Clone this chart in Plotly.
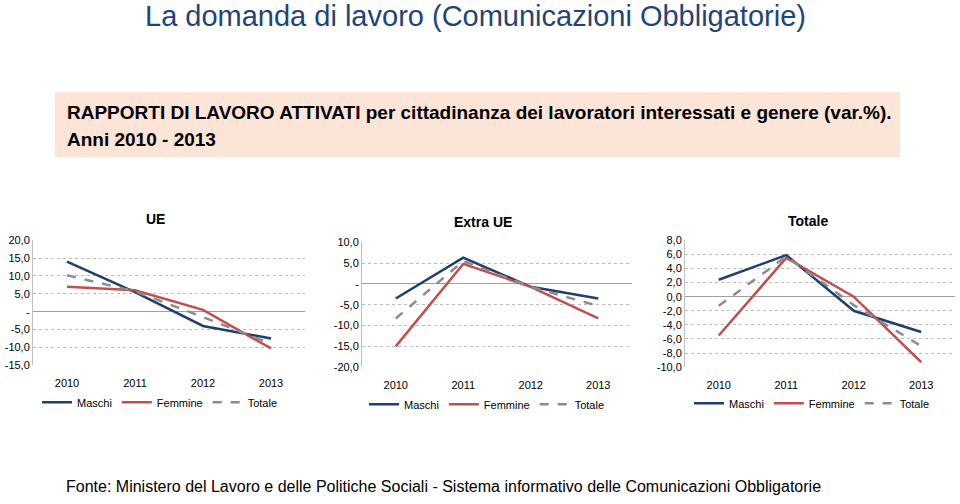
import plotly.graph_objects as go

years = ["2010", "2011", "2012", "2013"]

ue_maschi = [14.0, 5.5, -4.0, -7.5]
ue_femmine = [7.0, 6.0, 0.5, -10.3]
ue_totale = [10.2, 5.7, -1.5, -9.0]

extra_maschi = [-3.5, 6.3, -0.7, -3.5]
extra_femmine = [-15.0, 4.8, -0.7, -8.3]
extra_totale = [-8.3, 5.5, -0.7, -5.3]

tot_maschi = [2.4, 5.9, -2.0, -5.0]
tot_femmine = [-5.5, 5.5, 0.0, -9.3]
tot_totale = [-1.3, 5.7, -1.2, -7.0]

panel_titles = ["UE", "Extra UE", "Totale"]
series_names = ["Maschi", "Femmine", "Totale"]

ue_ticks = [20, 15, 10, 5, 0, -5, -10, -15]
ue_ticktext = ["20,0", "15,0", "10,0", "5,0", "-", "-5,0", "-10,0", "-15,0"]
extra_ticks = [10, 5, 0, -5, -10, -15, -20]
extra_ticktext = ["10,0", "5,0", "-", "-5,0", "-10,0", "-15,0", "-20,0"]
tot_ticks = [8, 6, 4, 2, 0, -2, -4, -6, -8, -10]
tot_ticktext = ["8,0", "6,0", "4,0", "2,0", "0,0", "-2,0", "-4,0", "-6,0", "-8,0", "-10,0"]

colors = ["#1F3F6E", "#C0504D", "#8C8C8C"]
dashes = ["solid", "solid", "dash"]

panels = [
    dict(data=[ue_maschi, ue_femmine, ue_totale], ticks=ue_ticks, ticktext=ue_ticktext,
         rng=[-15, 20], xd=[33, 305], yd=[240, 368], title_xy=(155, 218), leg_xy=(160, 406)),
    dict(data=[extra_maschi, extra_femmine, extra_totale], ticks=extra_ticks, ticktext=extra_ticktext,
         rng=[-20, 10], xd=[362, 632], yd=[242, 370], title_xy=(483, 221), leg_xy=(487, 408)),
    dict(data=[tot_maschi, tot_femmine, tot_totale], ticks=tot_ticks, ticktext=tot_ticktext,
         rng=[-10, 8], xd=[685, 955], yd=[240, 370], title_xy=(808, 220), leg_xy=(812, 407)),
]

W, H = 960, 504
fig = go.Figure()
layout = {}
annotations = []
FONT = "Liberation Sans, Arial, sans-serif"

for i, p in enumerate(panels):
    n = "" if i == 0 else str(i + 1)
    leg = "legend" if i == 0 else f"legend{i+1}"
    for j, s in enumerate(series_names):
        fig.add_trace(go.Scatter(
            x=years, y=p["data"][j], mode="lines", name=s,
            line=dict(color=colors[j], width=2.5, dash=dashes[j]),
            xaxis="x" + n, yaxis="y" + n, legend=leg,
        ))
    layout["xaxis" + n] = dict(
        domain=[p["xd"][0] / W, p["xd"][1] / W], anchor="y" + n,
        type="category", range=[-0.5, 3.5], showgrid=False, zeroline=False,
        showline=False, ticks="outside", ticklen=8, tickcolor="rgba(0,0,0,0)",
        tickfont=dict(family=FONT, size=11, color="#000"), fixedrange=True,
    )
    layout["yaxis" + n] = dict(
        domain=[1 - p["yd"][1] / H, 1 - p["yd"][0] / H], anchor="x" + n,
        range=p["rng"], tickvals=p["ticks"], ticktext=p["ticktext"],
        showgrid=True, gridcolor="#BBBBBB", griddash="dot", gridwidth=1,
        zeroline=True, zerolinecolor="#A0A0A0", zerolinewidth=1,
        showline=True, linecolor="#BFBFBF", linewidth=1,
        tickfont=dict(family=FONT, size=11, color="#000"), ticks="", fixedrange=True,
    )
    layout[leg] = dict(
        orientation="h", x=p["leg_xy"][0] / W, y=1 - p["leg_xy"][1] / H,
        xanchor="center", yanchor="middle", bgcolor="rgba(0,0,0,0)",
        font=dict(family=FONT, size=11, color="#000"), itemwidth=30,
        tracegroupgap=0,
    )
    annotations.append(dict(
        text="<b>" + panel_titles[i] + "</b>", x=p["title_xy"][0] / W, y=1 - p["title_xy"][1] / H,
        xref="paper", yref="paper", showarrow=False, xanchor="center", yanchor="middle",
        font=dict(family=FONT, size=14, color="#000"),
    ))

annotations.append(dict(
    text="La domanda di lavoro (Comunicazioni Obbligatorie)", x=475 / W, y=1 - 10 / H,
    xref="paper", yref="paper", showarrow=False, xanchor="center", yanchor="middle",
    font=dict(family=FONT, size=29, color="#1F4479"),
))
annotations.append(dict(
    text="<b>RAPPORTI DI LAVORO ATTIVATI per cittadinanza dei lavoratori interessati e genere (var.%).</b>",
    x=65 / W, y=1 - 109 / H, xref="paper", yref="paper", showarrow=False,
    xanchor="left", yanchor="middle",
    font=dict(family=FONT, size=19, color="#000"),
))
annotations.append(dict(
    text="<b>Anni 2010 - 2013</b>",
    x=65 / W, y=1 - 137 / H, xref="paper", yref="paper", showarrow=False,
    xanchor="left", yanchor="middle",
    font=dict(family=FONT, size=19, color="#000"),
))
annotations.append(dict(
    text="Fonte: Ministero del Lavoro e delle Politiche Sociali - Sistema informativo delle Comunicazioni Obbligatorie",
    x=64 / W, y=1 - 492 / H, xref="paper", yref="paper", showarrow=False,
    xanchor="left", yanchor="middle",
    font=dict(family=FONT, size=16, color="#000"),
))

shapes = [dict(type="rect", xref="paper", yref="paper", x0=55 / W, x1=900 / W,
               y0=1 - 155 / H, y1=1 - 88 / H, fillcolor="#FCE4D6", line=dict(width=0), layer="below")]

fig.update_layout(
    width=W, height=H, margin=dict(l=0, r=0, t=0, b=0),
    paper_bgcolor="white", plot_bgcolor="white",
    annotations=annotations, shapes=shapes, **layout,
)

fig.write_html("out.html", config={"displayModeBar": False})
